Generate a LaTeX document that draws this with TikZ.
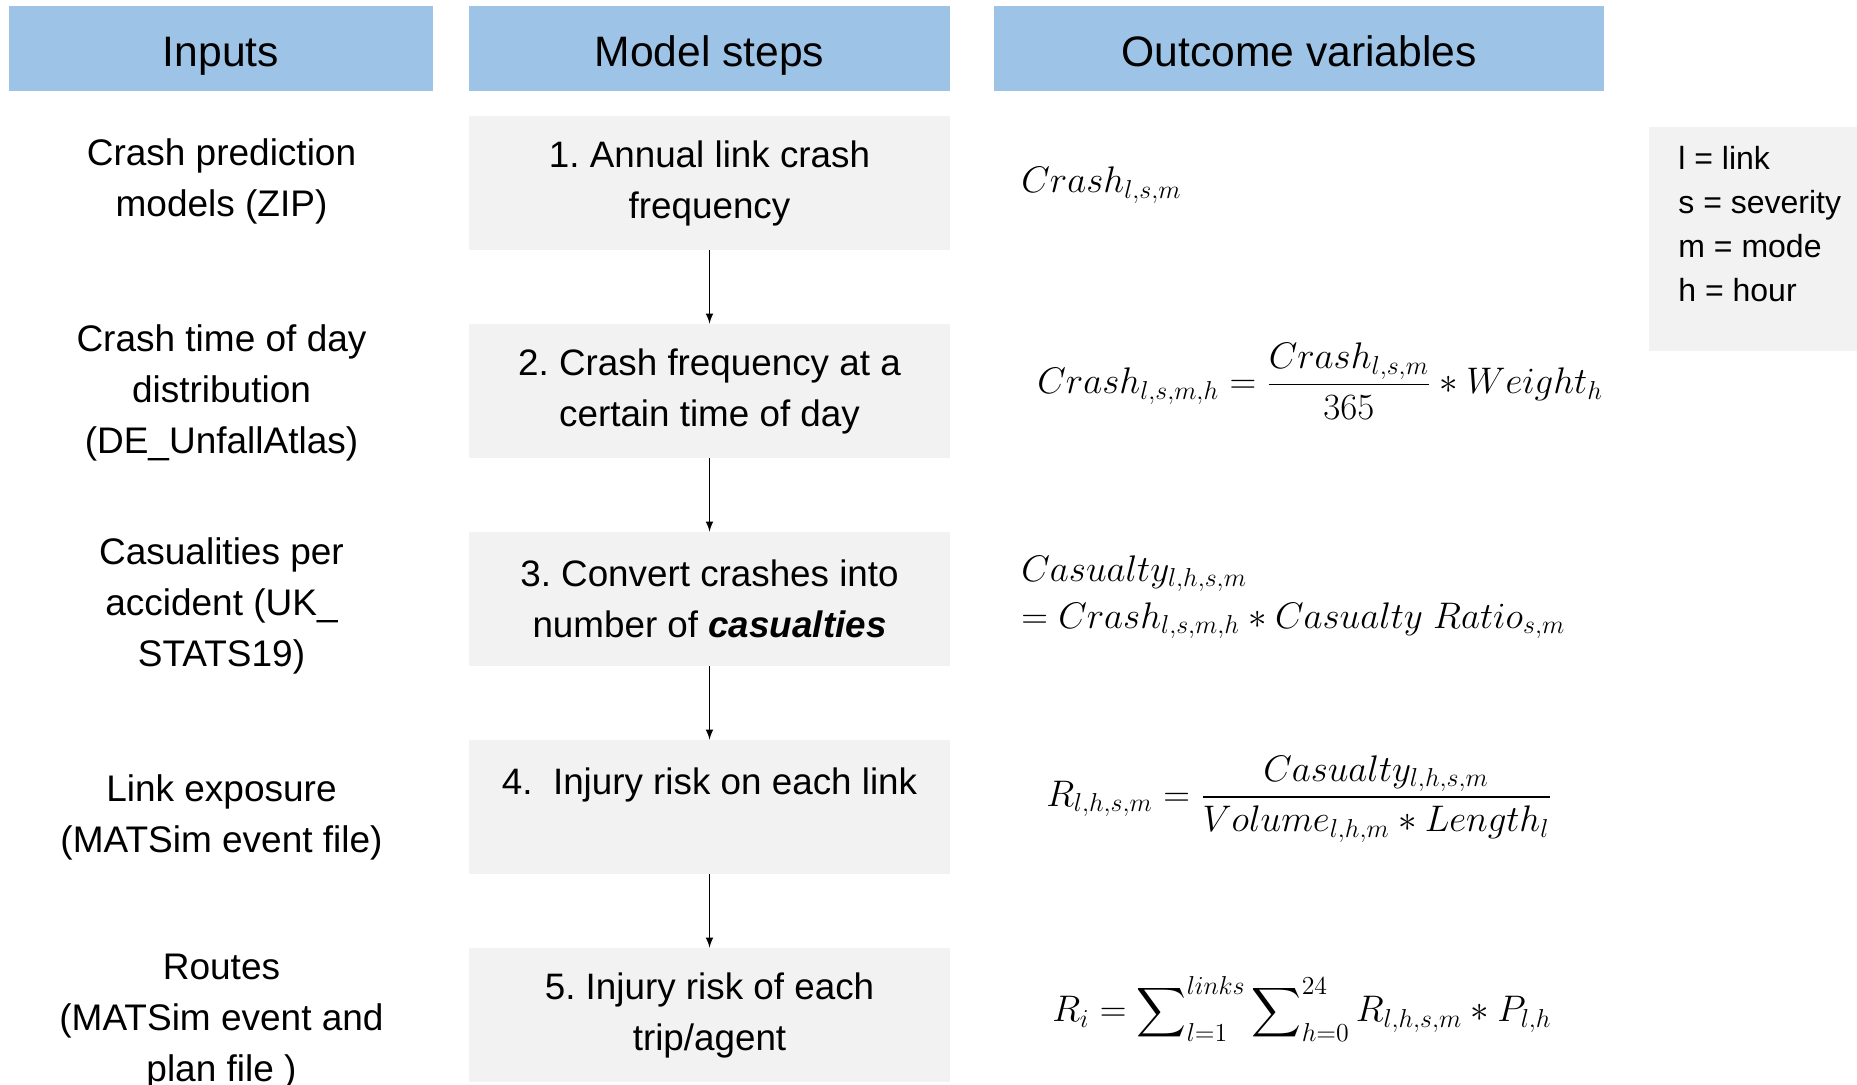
\RequirePackage{fix-cm}
\documentclass[tikz,border=0pt]{standalone}
\usepackage{amsmath}
\usepackage{fontspec}
\setmainfont{Liberation Sans}
\definecolor{headblue}{HTML}{9DC3E6}
\definecolor{boxgray}{HTML}{F2F2F2}
\frenchspacing

\begin{document}
\begin{tikzpicture}[x=0.5pt,y=-0.5pt,node distance=104pt,auto,>=latex,
	head/.style={fill=headblue,minimum height=42.5pt,inner sep=0pt,text height=20pt,text depth=2.2pt,font=\fontsize{21.3}{25}\selectfont},
	stepbox/.style={fill=boxgray,minimum width=240.5pt,minimum height=67pt,inner sep=0pt,align=center,font=\fontsize{18.4}{25.5}\selectfont},
	input/.style={align=center,inner sep=0pt,font=\fontsize{18.5}{25.5}\selectfont},
	eq/.style={anchor=west,inner sep=0pt,align=left,font=\fontsize{18.5}{23.5}\selectfont}]
	\useasboundingbox (0,0) rectangle (1857,1084);
	% column heads
	\node (H1) [head,minimum width=212pt] at (221,48.5) {Inputs};
	\node (H2) [head,minimum width=240.5pt] at (709.5,48.5) {Model steps};
	\node (H3) [head,minimum width=305pt] at (1299,48.5) {Outcome variables};
	% model steps
	\node (S1) [stepbox] at (709.5,183) {1. Annual link crash\\frequency};
	\node (S2) [stepbox,below of=S1] {2. Crash frequency at a\\certain time of day};
	\node (S3) [stepbox,below of=S2] {3. Convert crashes into\\number of \textbf{\textit{casualties}}};
	\node (S4) [stepbox,below of=S3] {4.~~Injury risk on each link\\\mbox{}};
	\node (S5) [stepbox,below of=S4] {5. Injury risk of each\\trip/agent};
	\draw[->,line width=0.75pt] (S1) to (S2);
	\draw[->,line width=0.75pt] (S2) to (S3);
	\draw[->,line width=0.75pt] (S3) to (S4);
	\draw[->,line width=0.75pt] (S4) to (S5);
	% inputs
	\node (I1) [input,node distance=244pt,left of=S1,yshift=1pt] {Crash prediction\\models (ZIP)};
	\node (I2) [input,node distance=244pt,left of=S2,yshift=-1.2pt] {Crash time of day\\distribution\\(DE\_UnfallAtlas)};
	\node (I3) [input,node distance=244pt,left of=S3,yshift=-3.5pt] {Casualities per\\accident (UK\_\\STATS19)};
	\node (I4) [input,node distance=244pt,left of=S4,yshift=-5.3pt] {Link exposure\\(MATSim event file)};
	\node (I5) [input,node distance=244pt,left of=S5,yshift=-3.5pt] {Routes\\(MATSim event and\\plan file )};
	% outcome variables
	\node (O1) [eq] at (1021,185) {$Crash_{l,s,m}$};
	\node (O2) [eq] at (1037,381) {$Crash_{l,s,m,h} = \dfrac{Crash_{l,s,m}}{365} * Weight_h$};
	\node (O3) [eq] at (1021,597) {$Casualty_{l,h,s,m}$\\$= Crash_{l,s,m,h} * Casualty\ Ratio_{s,m}$};
	\node (O4) [eq] at (1046,799) {$R_{l,h,s,m} = \dfrac{Casualty_{l,h,s,m}}{Volume_{l,h,m} * Length_l}$};
	\node (O5) [eq] at (1052,1009) {$\displaystyle R_i = \sum\nolimits_{l=1}^{links}\sum\nolimits_{h=0}^{24} R_{l,h,s,m} * P_{l,h}$};
	% key
	\fill[boxgray] (1649,127) rectangle (1857,351);
	\node (K) [anchor=north west,inner sep=0pt,align=left,font=\fontsize{16}{22}\selectfont] at (1678,145.5) {l = link\\s = severity\\m = mode\\h = hour};
\end{tikzpicture}
\end{document}
